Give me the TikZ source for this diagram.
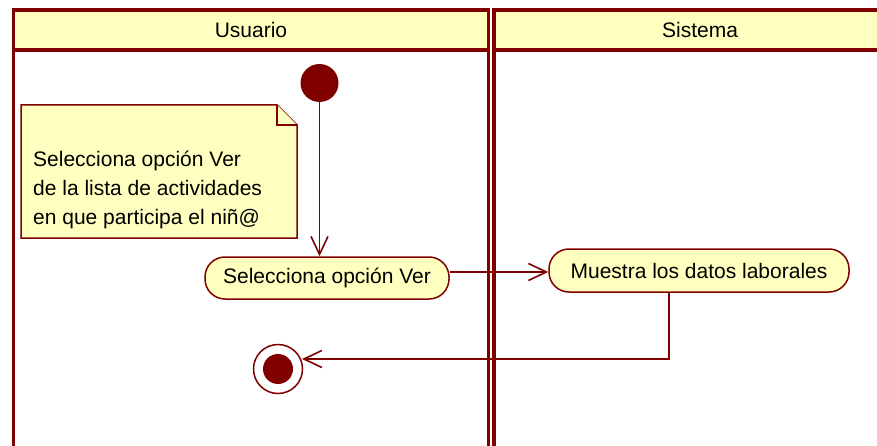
\documentclass[tikz,border=0pt]{standalone}
\usepackage{fontspec}
\setmainfont{Liberation Sans}
\usetikzlibrary{arrows.meta,calc}
\definecolor{umlred}{HTML}{800000}
\definecolor{umlfill}{HTML}{FFFFC0}
\begin{document}
\begin{tikzpicture}[x=1pt,y=-1pt,
  font=\fontsize{21}{29}\selectfont,
  laneline/.style={draw=umlred, line width=3.5pt},
  lanehead/.style={draw=umlred, fill=umlfill, line width=3.5pt, minimum height=40pt, inner sep=0pt},
  act/.style={draw=umlred, fill=umlfill, line width=1.5pt, rounded corners=20pt, inner sep=0pt},
  notebox/.style={draw=umlred, fill=umlfill, line width=1.5pt},
  flow/.style={draw=umlred, line width=1.6pt, -{Straight Barb[length=18pt,width=17pt,line width=1.6pt]}}
]
\useasboundingbox (0,0) rectangle (877,446);
\clip (0,0) rectangle (877,446);
\fill[white] (0,0) rectangle (877,446);

% swimlanes
\draw[laneline] (13.5,50) -- (13.5,460);
\draw[laneline] (488.5,50) -- (488.5,460);
\draw[laneline] (494,50) -- (494,460);
\node[lanehead, minimum width=475pt] (h1) at (251,30) {Usuario};
\node[lanehead, minimum width=412pt] (h2) at (700,30) {Sistema};

% note
\coordinate (nA) at (21,105);
\coordinate (nB) at (277,105);
\coordinate (nC) at (297,125);
\coordinate (nD) at (297,238);
\coordinate (nE) at (21,238);
\draw[notebox] (nA) -- (nB) -- (nC) -- (nD) -- (nE) -- cycle;
\draw[notebox] (nB) -- (nB |- nC) -- (nC);
\node[anchor=north west, align=left, inner sep=0pt] (ntext) at (33,151)
  {Selecciona opción Ver\\de la lista de actividades\\en que participa el niñ@};

% nodes
\node[circle, fill=umlred, minimum size=38pt, inner sep=0pt] (ini) at (319.5,83) {};
\node[act, minimum width=244pt, minimum height=42pt] (a1) at (327,278) {Selecciona opción Ver};
\node[act, minimum width=300pt, minimum height=43pt] (a2) at (699,270.5) {Muestra los datos laborales};
\node[circle, draw=umlred, line width=1.5pt, fill=white, minimum size=49pt, inner sep=0pt] (fin) at (278,369) {};
\node[circle, fill=umlred, minimum size=30pt, inner sep=0pt] (finin) at (fin) {};

% connectors
\draw[flow] (ini.south) -- (ini.south |- a1.north);
\coordinate (s1) at ($(a1.east)+(0,-6)$);
\draw[flow] (s1) -- (s1 -| a2.west);
\coordinate (s2) at ($(a2.south)+(-30,0)$);
\coordinate (fend) at ($(fin.center)+(24,-10)$);
\draw[flow] (s2) |- (fend);
\end{tikzpicture}
\end{document}
